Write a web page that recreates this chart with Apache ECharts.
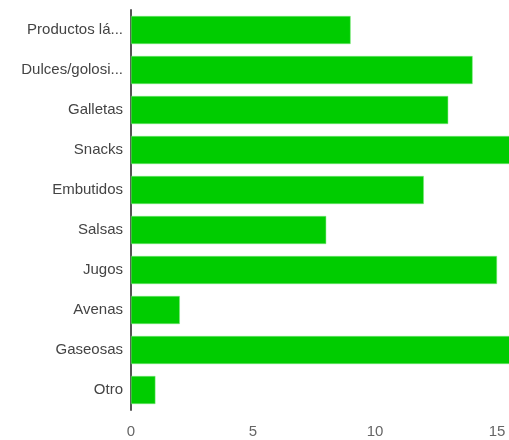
<!DOCTYPE html>
<html>
<head>
<meta charset="utf-8">
<script src="https://cdn.jsdelivr.net/npm/echarts@6/dist/echarts.min.js"></script>
<style>
  html, body { margin: 0; padding: 0; background: #fff; }
  #chart { width: 509px; height: 440px; }
</style>
</head>
<body>
<div id="chart"></div>
<script>
const categories = [
  "Productos lá...",
  "Dulces/golosi...",
  "Galletas",
  "Snacks",
  "Embutidos",
  "Salsas",
  "Jugos",
  "Avenas",
  "Gaseosas",
  "Otro",
];
const values = [9, 14, 13, 16, 12, 8, 15, 2, 16, 1];
const xTicks = [0, 5, 10, 15, 20];

const chart = echarts.init(document.getElementById("chart"));
chart.setOption({
  animation: false,
  grid: {
    left: 131,
    top: 10,
    bottom: 30,
    width: 488, // the axis runs past the window edge, as in the cropped original
    outerBoundsMode: "none",
  },
  xAxis: {
    type: "value",
    min: xTicks[0],
    max: xTicks[xTicks.length - 1],
    interval: 5,
    axisLine: { show: false },
    axisTick: { show: false },
    splitLine: { show: false },
    axisLabel: {
      color: "#666",
      fontFamily: "Liberation Sans, Arial, sans-serif",
      fontSize: 15,
      margin: 14,
    },
  },
  yAxis: {
    type: "category",
    inverse: true,
    data: categories,
    axisLine: { show: true, lineStyle: { color: "#555", width: 2 } },
    axisTick: { show: false },
    axisLabel: {
      color: "#444",
      fontFamily: "Liberation Sans, Arial, sans-serif",
      fontSize: 15,
      margin: 8,
    },
  },
  series: [
    {
      type: "bar",
      data: values,
      barCategoryGap: "30%",
      itemStyle: {
        color: "#00cc00",
        borderColor: "#7ee87e",
        borderWidth: 0.5,
      },
    },
  ],
});
</script>
</body>
</html>
